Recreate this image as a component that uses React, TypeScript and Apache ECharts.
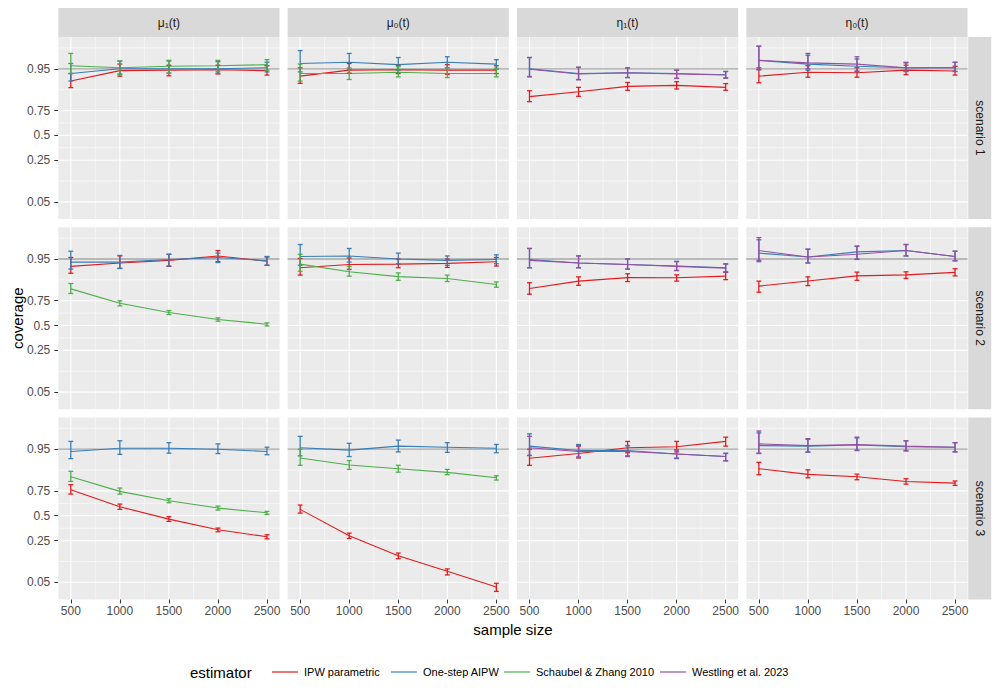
import React, { useEffect, useRef } from "react";
import * as echarts from "echarts";

// ---------- data ----------
const sampleSizes = [500, 1000, 1500, 2000, 2500];
const xBreaks = [500, 1000, 1500, 2000, 2500];
const xBreakLabels = ["500", "1000", "1500", "2000", "2500"];
const yBreaks = [0.05, 0.25, 0.5, 0.75, 0.95];
const yBreakLabels = ["0.05", "0.25", "0.5", "0.75", "0.95"];
const nominalCoverage = 0.95;
const estimators = ["IPW parametric", "One-step AIPW", "Schaubel & Zhang 2010", "Westling et al. 2023"];
const estimatorColors = ["#E41A1C", "#377EB8", "#4DAF4A", "#984EA3"];
const targetLabels = ["μ₁(t)", "μ₀(t)", "η₁(t)", "η₀(t)"];
const scenarioLabels = ["scenario 1", "scenario 2", "scenario 3"];

// each entry: [coverage, lower, upper] for sample sizes 500..2500
// scenario 1
const s1Mu1Ipw = [[0.917, 0.892, 0.939], [0.946, 0.932, 0.959], [0.947, 0.933, 0.957], [0.948, 0.938, 0.957], [0.946, 0.935, 0.956]];
const s1Mu1Aipw = [[0.939, 0.917, 0.960], [0.950, 0.938, 0.964], [0.950, 0.940, 0.964], [0.950, 0.940, 0.963], [0.952, 0.943, 0.962]];
const s1Mu1Sz = [[0.956, 0.939, 0.974], [0.952, 0.936, 0.964], [0.955, 0.940, 0.965], [0.956, 0.944, 0.965], [0.958, 0.947, 0.966]];
const s1Mu0Ipw = [[0.932, 0.909, 0.952], [0.947, 0.940, 0.960], [0.948, 0.939, 0.957], [0.947, 0.937, 0.958], [0.947, 0.939, 0.956]];
const s1Mu0Aipw = [[0.960, 0.943, 0.977], [0.962, 0.949, 0.974], [0.958, 0.947, 0.969], [0.962, 0.952, 0.970], [0.959, 0.949, 0.966]];
const s1Mu0Sz = [[0.939, 0.917, 0.959], [0.939, 0.922, 0.952], [0.942, 0.930, 0.954], [0.939, 0.928, 0.952], [0.939, 0.930, 0.951]];
const s1Eta1Ipw = [[0.847, 0.816, 0.878], [0.873, 0.849, 0.893], [0.897, 0.880, 0.912], [0.901, 0.886, 0.915], [0.893, 0.880, 0.908]];
const s1Eta1Aipw = [[0.950, 0.931, 0.969], [0.939, 0.922, 0.953], [0.941, 0.928, 0.952], [0.939, 0.926, 0.947], [0.936, 0.927, 0.944]];
const s1Eta1West = [[0.949, 0.930, 0.969], [0.938, 0.921, 0.953], [0.941, 0.928, 0.952], [0.938, 0.925, 0.947], [0.935, 0.926, 0.944]];
const s1Eta0Ipw = [[0.932, 0.911, 0.952], [0.942, 0.929, 0.956], [0.941, 0.929, 0.952], [0.947, 0.936, 0.957], [0.945, 0.935, 0.955]];
const s1Eta0Aipw = [[0.965, 0.948, 0.981], [0.959, 0.947, 0.972], [0.955, 0.944, 0.967], [0.952, 0.944, 0.961], [0.952, 0.944, 0.962]];
const s1Eta0West = [[0.965, 0.948, 0.981], [0.961, 0.950, 0.974], [0.959, 0.945, 0.970], [0.952, 0.944, 0.962], [0.952, 0.944, 0.962]];
// scenario 2
const s2Mu1Ipw = [[0.932, 0.910, 0.953], [0.941, 0.926, 0.956], [0.947, 0.932, 0.959], [0.956, 0.944, 0.965], [0.945, 0.935, 0.954]];
const s2Mu1Aipw = [[0.943, 0.924, 0.964], [0.943, 0.926, 0.957], [0.949, 0.933, 0.959], [0.953, 0.942, 0.961], [0.946, 0.935, 0.955]];
const s2Mu1Sz = [[0.835, 0.805, 0.865], [0.729, 0.705, 0.749], [0.640, 0.619, 0.660], [0.566, 0.548, 0.584], [0.515, 0.496, 0.529]];
const s2Mu0Ipw = [[0.928, 0.903, 0.951], [0.937, 0.923, 0.952], [0.938, 0.928, 0.950], [0.940, 0.929, 0.950], [0.944, 0.933, 0.953]];
const s2Mu0Aipw = [[0.955, 0.935, 0.973], [0.956, 0.943, 0.968], [0.950, 0.939, 0.961], [0.947, 0.935, 0.956], [0.949, 0.939, 0.958]];
const s2Mu0Sz = [[0.938, 0.917, 0.959], [0.915, 0.899, 0.932], [0.897, 0.881, 0.911], [0.889, 0.875, 0.903], [0.860, 0.845, 0.873]];
const s2Eta1Ipw = [[0.837, 0.800, 0.869], [0.877, 0.856, 0.896], [0.893, 0.875, 0.908], [0.892, 0.877, 0.904], [0.899, 0.884, 0.913]];
const s2Eta1Aipw = [[0.949, 0.928, 0.968], [0.941, 0.928, 0.956], [0.937, 0.924, 0.950], [0.933, 0.920, 0.945], [0.928, 0.915, 0.939]];
const s2Eta1West = [[0.947, 0.928, 0.968], [0.941, 0.928, 0.956], [0.937, 0.924, 0.950], [0.932, 0.919, 0.944], [0.927, 0.914, 0.938]];
const s2Eta0Ipw = [[0.851, 0.814, 0.877], [0.878, 0.854, 0.896], [0.900, 0.881, 0.914], [0.904, 0.889, 0.915], [0.913, 0.900, 0.925]];
const s2Eta0Aipw = [[0.961, 0.944, 0.978], [0.954, 0.941, 0.967], [0.963, 0.949, 0.971], [0.965, 0.956, 0.973], [0.955, 0.946, 0.964]];
const s2Eta0West = [[0.965, 0.947, 0.980], [0.954, 0.941, 0.967], [0.959, 0.950, 0.971], [0.965, 0.956, 0.973], [0.955, 0.946, 0.964]];
// scenario 3
const s3Mu1Ipw = [[0.760, 0.723, 0.798], [0.598, 0.570, 0.626], [0.463, 0.438, 0.489], [0.350, 0.330, 0.367], [0.283, 0.265, 0.301]];
const s3Mu1Aipw = [[0.945, 0.926, 0.964], [0.952, 0.938, 0.965], [0.952, 0.941, 0.962], [0.950, 0.940, 0.960], [0.945, 0.937, 0.954]];
const s3Mu1Sz = [[0.849, 0.820, 0.877], [0.746, 0.723, 0.773], [0.660, 0.640, 0.680], [0.584, 0.562, 0.605], [0.533, 0.515, 0.548]];
const s3Mu0Ipw = [[0.570, 0.529, 0.616], [0.292, 0.268, 0.317], [0.146, 0.130, 0.161], [0.079, 0.068, 0.087], [0.041, 0.034, 0.048]];
const s3Mu0Aipw = [[0.953, 0.934, 0.971], [0.948, 0.932, 0.961], [0.956, 0.944, 0.966], [0.954, 0.943, 0.962], [0.952, 0.942, 0.959]];
const s3Mu0Sz = [[0.928, 0.903, 0.950], [0.904, 0.886, 0.920], [0.889, 0.873, 0.903], [0.872, 0.860, 0.886], [0.843, 0.829, 0.854]];
const s3Eta1Ipw = [[0.927, 0.903, 0.950], [0.940, 0.928, 0.956], [0.953, 0.942, 0.964], [0.955, 0.944, 0.964], [0.964, 0.956, 0.970]];
const s3Eta1Aipw = [[0.956, 0.935, 0.974], [0.947, 0.929, 0.959], [0.947, 0.934, 0.957], [0.939, 0.926, 0.949], [0.932, 0.919, 0.941]];
const s3Eta1West = [[0.953, 0.935, 0.971], [0.945, 0.931, 0.957], [0.945, 0.932, 0.957], [0.939, 0.928, 0.948], [0.932, 0.919, 0.940]];
const s3Eta0Ipw = [[0.889, 0.860, 0.914], [0.862, 0.843, 0.884], [0.849, 0.831, 0.863], [0.820, 0.802, 0.837], [0.809, 0.793, 0.823]];
const s3Eta0Aipw = [[0.957, 0.940, 0.975], [0.956, 0.943, 0.967], [0.958, 0.947, 0.969], [0.955, 0.946, 0.965], [0.954, 0.944, 0.962]];
const s3Eta0West = [[0.960, 0.941, 0.977], [0.957, 0.944, 0.968], [0.959, 0.948, 0.970], [0.956, 0.947, 0.965], [0.954, 0.944, 0.962]];

// panels: row = scenario, col = target; curves = [estimator index, data]
const panels = [
  { row: 0, col: 0, curves: [[0, s1Mu1Ipw], [1, s1Mu1Aipw], [2, s1Mu1Sz]] },
  { row: 0, col: 1, curves: [[0, s1Mu0Ipw], [1, s1Mu0Aipw], [2, s1Mu0Sz]] },
  { row: 0, col: 2, curves: [[0, s1Eta1Ipw], [1, s1Eta1Aipw], [3, s1Eta1West]] },
  { row: 0, col: 3, curves: [[0, s1Eta0Ipw], [1, s1Eta0Aipw], [3, s1Eta0West]] },
  { row: 1, col: 0, curves: [[0, s2Mu1Ipw], [1, s2Mu1Aipw], [2, s2Mu1Sz]] },
  { row: 1, col: 1, curves: [[0, s2Mu0Ipw], [1, s2Mu0Aipw], [2, s2Mu0Sz]] },
  { row: 1, col: 2, curves: [[0, s2Eta1Ipw], [1, s2Eta1Aipw], [3, s2Eta1West]] },
  { row: 1, col: 3, curves: [[0, s2Eta0Ipw], [1, s2Eta0Aipw], [3, s2Eta0West]] },
  { row: 2, col: 0, curves: [[0, s3Mu1Ipw], [1, s3Mu1Aipw], [2, s3Mu1Sz]] },
  { row: 2, col: 1, curves: [[0, s3Mu0Ipw], [1, s3Mu0Aipw], [2, s3Mu0Sz]] },
  { row: 2, col: 2, curves: [[0, s3Eta1Ipw], [1, s3Eta1Aipw], [3, s3Eta1West]] },
  { row: 2, col: 3, curves: [[0, s3Eta0Ipw], [1, s3Eta0Aipw], [3, s3Eta0West]] },
];

// ---------- layout / style ----------
const FONT = '"Liberation Sans", Arial, Helvetica, sans-serif';
const PANEL_X0 = 58.3;
const PANEL_DX = 229.35;
const PANEL_W = 221.2;
const PANEL_Y0 = 37;
const PANEL_DY = 190.2;
const PANEL_H = 182;
const X_MIN = 372.5;
const X_MAX = 2627.5;
const Y_MIN = -3.7;
const Y_MAX = 4.35;
const ERRORBAR_HALF = 25;

const logit = (p: number) => Math.log(p / (1 - p));

function minorBreaks(majors: number[], lo: number, hi: number) {
  const n = majors.length;
  const ext = [majors[0] - (majors[1] - majors[0]), ...majors, majors[n - 1] + (majors[n - 1] - majors[n - 2])];
  const out: number[] = [];
  for (let i = 0; i < ext.length - 1; i++) {
    const m = (ext[i] + ext[i + 1]) / 2;
    if (m >= lo && m <= hi) out.push(m);
  }
  return out;
}

function buildOption() {
  const yMajors = yBreaks.map(logit);
  const yMinors = minorBreaks(yMajors, Y_MIN, Y_MAX);
  const xMinors = minorBreaks(xBreaks, X_MIN, X_MAX);
  const xMid = (X_MIN + X_MAX) / 2;

  // gridline items: [x, y, kind]; kind 0 = h major, 1 = h minor, 2 = v major, 3 = v minor, 4 = nominal line
  const gridItems: number[][] = [
    ...yMinors.map((v) => [xMid, v, 1]),
    ...xMinors.map((v) => [v, 0, 3]),
    ...yMajors.map((v) => [xMid, v, 0]),
    ...xBreaks.map((v) => [v, 0, 2]),
    [xMid, logit(nominalCoverage), 4],
  ];

  const grids: any[] = [];
  const xAxes: any[] = [];
  const yAxes: any[] = [];
  const series: any[] = [];

  panels.forEach((p, i) => {
    grids.push({
      left: PANEL_X0 + p.col * PANEL_DX,
      top: PANEL_Y0 + p.row * PANEL_DY,
      width: PANEL_W,
      height: PANEL_H,
      show: true,
      backgroundColor: "#EBEBEB",
      borderWidth: 0,
      containLabel: false,
    });
    const bottom = p.row === 2;
    const left = p.col === 0;
    xAxes.push({
      gridIndex: i,
      type: "value",
      position: "bottom",
      min: X_MIN,
      max: X_MAX,
      axisLine: { show: false, onZero: false },
      splitLine: { show: false },
      axisTick: { show: bottom, customValues: xBreaks, length: 4, lineStyle: { color: "#333333", width: 1 } },
      axisLabel: {
        show: bottom,
        customValues: xBreaks,
        formatter: (v: number) => {
          const k = xBreaks.indexOf(v);
          return k >= 0 ? xBreakLabels[k] : "";
        },
        color: "#4D4D4D",
        fontSize: 12,
        fontFamily: FONT,
        margin: 6,
      },
    });
    yAxes.push({
      gridIndex: i,
      type: "value",
      position: "left",
      min: Y_MIN,
      max: Y_MAX,
      axisLine: { show: false, onZero: false },
      splitLine: { show: false },
      axisTick: { show: left, customValues: yMajors, length: 4, lineStyle: { color: "#333333", width: 1 } },
      axisLabel: {
        show: left,
        customValues: yMajors,
        formatter: (v: number) => {
          const k = yMajors.findIndex((b) => Math.abs(b - v) < 1e-6);
          return k >= 0 ? yBreakLabels[k] : "";
        },
        color: "#4D4D4D",
        fontSize: 12,
        fontFamily: FONT,
        margin: 8,
      },
    });

    // gridlines + nominal line
    series.push({
      type: "custom",
      xAxisIndex: i,
      yAxisIndex: i,
      silent: true,
      z: 1,
      data: gridItems,
      renderItem: (params: any, api: any) => {
        const cs = params.coordSys;
        const kind = api.value(2);
        if (kind === 0 || kind === 1 || kind === 4) {
          const y = api.coord([xMid, api.value(1)])[1];
          return {
            type: "line",
            shape: { x1: cs.x, y1: y, x2: cs.x + cs.width, y2: y },
            style: {
              stroke: kind === 4 ? "#A3A3A3" : "#FFFFFF",
              lineWidth: kind === 1 ? 0.55 : kind === 4 ? 1.3 : 1.1,
            },
            z2: kind === 4 ? 10 : kind === 0 ? 5 : 1,
          };
        }
        const x = api.coord([api.value(0), 0])[0];
        return {
          type: "line",
          shape: { x1: x, y1: cs.y, x2: x, y2: cs.y + cs.height },
          style: { stroke: "#FFFFFF", lineWidth: kind === 3 ? 0.55 : 1.1 },
          z2: kind === 2 ? 5 : 1,
        };
      },
    });

    p.curves.forEach(([est, data]: any) => {
      const color = estimatorColors[est];
      series.push({
        type: "line",
        name: estimators[est],
        xAxisIndex: i,
        yAxisIndex: i,
        data: data.map((d: number[], k: number) => [sampleSizes[k], logit(d[0])]),
        showSymbol: false,
        symbol: "none",
        lineStyle: { color, width: 1.1 },
        itemStyle: { color },
        z: 3,
        silent: true,
      });
    });
    p.curves.forEach(([est, data]: any) => {
      const color = estimatorColors[est];
      series.push({
        type: "custom",
        name: estimators[est],
        xAxisIndex: i,
        yAxisIndex: i,
        silent: true,
        z: 4,
        data: data.map((d: number[], k: number) => [sampleSizes[k], logit(d[1]), logit(d[2])]),
        renderItem: (params: any, api: any) => {
          const x = api.value(0);
          const lo = api.coord([x, api.value(1)]);
          const hi = api.coord([x, api.value(2)]);
          const xl = api.coord([x - ERRORBAR_HALF, api.value(1)])[0];
          const xr = api.coord([x + ERRORBAR_HALF, api.value(1)])[0];
          const style = { stroke: color, lineWidth: 1.3 };
          return {
            type: "group",
            children: [
              { type: "line", shape: { x1: lo[0], y1: lo[1], x2: hi[0], y2: hi[1] }, style },
              { type: "line", shape: { x1: xl, y1: lo[1], x2: xr, y2: lo[1] }, style },
              { type: "line", shape: { x1: xl, y1: hi[1], x2: xr, y2: hi[1] }, style },
            ],
          };
        },
      });
    });
  });

  const graphics: any[] = [];
  targetLabels.forEach((t, c) => {
    const x = PANEL_X0 + c * PANEL_DX;
    graphics.push({
      type: "rect",
      shape: { x, y: 8, width: PANEL_W, height: 29 },
      style: { fill: "#D9D9D9" },
      silent: true,
    });
    graphics.push({
      type: "text",
      x: x + PANEL_W / 2,
      y: 22.5,
      style: { text: t, fill: "#1A1A1A", font: `12px ${FONT}`, textAlign: "center", textVerticalAlign: "middle" },
      silent: true,
    });
  });
  scenarioLabels.forEach((s, r) => {
    const y = PANEL_Y0 + r * PANEL_DY;
    const sx = PANEL_X0 + 3 * PANEL_DX + PANEL_W + 0.7;
    graphics.push({
      type: "rect",
      shape: { x: sx, y, width: 23, height: PANEL_H },
      style: { fill: "#D9D9D9" },
      silent: true,
    });
    graphics.push({
      type: "text",
      x: sx + 11.5,
      y: y + PANEL_H / 2,
      rotation: -Math.PI / 2,
      style: { text: s, fill: "#1A1A1A", font: `12px ${FONT}`, textAlign: "center", textVerticalAlign: "middle" },
      silent: true,
    });
  });
  const panelsMidX = PANEL_X0 + (3 * PANEL_DX + PANEL_W) / 2;
  const panelsMidY = PANEL_Y0 + (2 * PANEL_DY + PANEL_H) / 2;
  graphics.push({
    type: "text",
    x: panelsMidX,
    y: 629,
    style: { text: "sample size", fill: "#000000", font: `15px ${FONT}`, textAlign: "center", textVerticalAlign: "middle" },
    silent: true,
  });
  graphics.push({
    type: "text",
    x: 17,
    y: panelsMidY,
    rotation: Math.PI / 2,
    style: { text: "coverage", fill: "#000000", font: `15px ${FONT}`, textAlign: "center", textVerticalAlign: "middle" },
    silent: true,
  });

  // legend
  const legendY = 672;
  graphics.push({
    type: "text",
    x: 190,
    y: legendY,
    style: { text: "estimator", fill: "#000000", font: `15px ${FONT}`, textAlign: "left", textVerticalAlign: "middle" },
    silent: true,
  });
  const keyStarts = [271, 390, 503, 659];
  estimators.forEach((name, k) => {
    const kx = keyStarts[k];
    graphics.push({
      type: "line",
      shape: { x1: kx + 1, y1: legendY, x2: kx + 27, y2: legendY },
      style: { stroke: estimatorColors[k], lineWidth: 1.2 },
      silent: true,
    });
    graphics.push({
      type: "text",
      x: kx + 33,
      y: legendY,
      style: { text: name, fill: "#000000", font: `11px ${FONT}`, textAlign: "left", textVerticalAlign: "middle" },
      silent: true,
    });
  });

  return {
    animation: false,
    backgroundColor: "#FFFFFF",
    grid: grids,
    xAxis: xAxes,
    yAxis: yAxes,
    series,
    graphic: { elements: graphics },
  };
}

export default function App() {
  const ref = useRef<HTMLDivElement>(null);
  useEffect(() => {
    if (!ref.current) return;
    const chart = echarts.init(ref.current, null, { renderer: "svg", width: 1000, height: 700 });
    chart.setOption(buildOption() as any);
    return () => chart.dispose();
  }, []);
  return (
    <div
      ref={ref}
      style={{ position: "absolute", left: 0, top: 0, width: 1000, height: 700, background: "#fff" }}
    />
  );
}
